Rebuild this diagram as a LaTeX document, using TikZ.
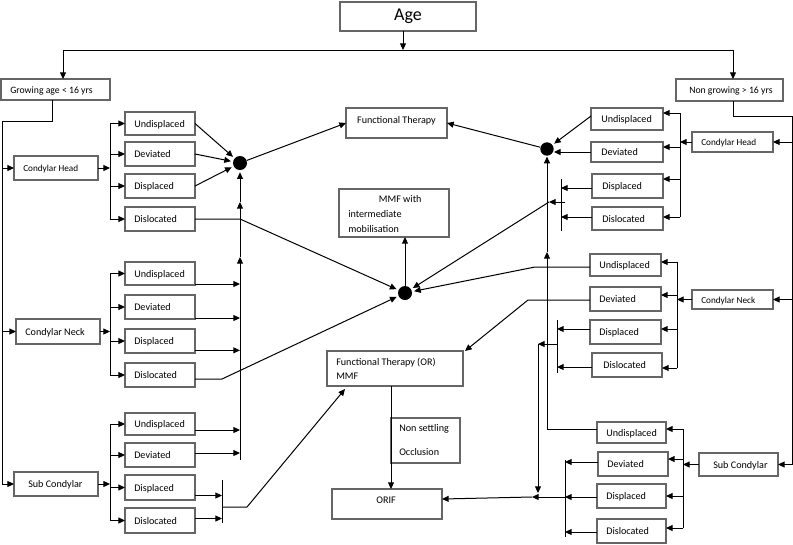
\documentclass[tikz,border=0pt]{standalone}
\usepackage{fontspec}
\setmainfont{Carlito}
\usetikzlibrary{arrows.meta,calc}
\tikzset{
 box/.style={draw=black!60, line width=0.8pt, rectangle, inner sep=0pt, outer sep=0pt},
 lbl/.style={inner sep=0pt, font=\fontsize{7.6}{9.5}\selectfont, text height=1.45ex, text depth=0.35ex},
 lblm/.style={inner sep=0pt, align=left},
 sml/.style={font=\fontsize{6.9}{8.5}\selectfont},
 arr/.style={-{Triangle[length=5pt,width=4.5pt]}},
 ln/.style={line width=0.75pt, black},
 dot/.style={circle, fill=black, inner sep=0pt, minimum size=10.5pt},
}
\newcommand\bxo[5]{\node[box, minimum width={(#4-#2)*0.75pt}, minimum height={(#5-#3)*0.75pt}] (#1) at ({(#2+#4)/2},{(#3+#5)/2}) {};}
\newcommand\bx[8][]{\bxo{#2}{#3}{#4}{#5}{#6}\node[lbl,#1,anchor=west] (#2t) at ($(#2.west)+(#7,0)$) {#8};}
\begin{document}
\begin{tikzpicture}[x=0.75pt,y=-0.75pt]
\useasboundingbox (0,0) rectangle (793,544);
% ---------- boxes ----------
\node[box, minimum width=102pt, minimum height=21.75pt, font=\fontsize{13.5}{16}\selectfont] (age) at (408,16.5) {Age};
\bx[font=\fontsize{7.3}{9}\selectfont]{grow}{1}{79}{110}{100}{9}{Growing age < 16 yrs}
\bx[font=\fontsize{7.3}{9}\selectfont]{nong}{676}{79}{783}{101}{13}{Non growing > 16 yrs}
\bx[sml]{lch}{14}{156}{98}{180}{9}{Condylar Head}
\bx{lcn}{16}{319}{100}{344}{9}{Condylar Neck}
\bx{lsc}{14}{472}{98}{496}{14}{Sub Condylar}
\bx{lh1}{125}{112}{195}{135}{9}{Undisplaced}
\bx{lh2}{125}{142}{195}{166}{9}{Deviated}
\bx{lh3}{125}{174}{195}{198}{9}{Displaced}
\bx{lh4}{125}{207}{195}{231}{9}{Dislocated}
\bx{ln1}{125}{262}{195}{285}{9}{Undisplaced}
\bx{ln2}{125}{295}{195}{319}{9}{Deviated}
\bx{ln3}{125}{329}{195}{353}{9}{Displaced}
\bx{ln4}{125}{363}{195}{387}{9}{Dislocated}
\bx{ls1}{125}{413}{195}{435}{9}{Undisplaced}
\bx{ls2}{125}{443}{195}{467}{9}{Deviated}
\bx{ls3}{125}{475}{195}{500}{9}{Displaced}
\bx{ls4}{125}{508}{195}{533}{9}{Dislocated}
\bxo{ft}{346}{108}{447}{138}
\node[lbl] (ftt) at ($(ft.center)+(0,-3)$) {Functional Therapy};
\bxo{mmf}{339}{189}{449}{237}
\node[lblm, anchor=west, font=\fontsize{7.6}{10.9}\selectfont] (mmft) at ($(mmf.west)+(9,1)$) {\hspace*{23pt}MMF with\\intermediate\\mobilisation};
\bxo{ftor}{327}{351}{463}{386}
\node[lblm, anchor=west, font=\fontsize{7.6}{10.5}\selectfont] (ftort) at ($(ftor.west)+(9,0)$) {Functional Therapy (OR)\\MMF};
\bxo{nso}{391}{418}{460}{463}
\node[lblm, anchor=west, font=\fontsize{7.6}{18}\selectfont] (nsot) at ($(nso.west)+(8,0)$) {Non settling\\Occlusion};
\bxo{orif}{332}{489}{442}{519}
\node[lbl] (orift) at ($(orif.center)+(-1,-4)$) {ORIF};
\bx[sml]{rch}{692}{132}{773}{152}{9}{Condylar Head}
\bx[sml]{rcn}{692}{290}{773}{309}{9}{Condylar Neck}
\bx{rsc}{699}{453}{778}{476}{14}{Sub Condylar}
\bx{rh1}{591}{108}{663}{130}{10}{Undisplaced}
\bx{rh2}{591}{142}{663}{162}{10}{Deviated}
\bx{rh3}{592}{174}{663}{198}{10}{Displaced}
\bx{rh4}{592}{207}{663}{230}{10}{Dislocated}
\bx{rn1}{590}{254}{661}{276}{9}{Undisplaced}
\bx{rn2}{590}{287}{661}{311}{9}{Deviated}
\bx{rn3}{590}{320}{661}{344}{9}{Displaced}
\bx{rn4}{592}{353}{662}{377}{11}{Dislocated}
\bx{rs1}{597}{422}{666}{443}{9}{Undisplaced}
\bx{rs2}{598}{452}{668}{476}{9}{Deviated}
\bx{rs3}{597}{484}{666}{508}{9}{Displaced}
\bx{rs4}{597}{519}{666}{543}{9}{Dislocated}
% ---------- dots ----------
\node[dot] (d1) at (240,163) {};
\node[dot] (d2) at (405,293) {};
\node[dot, minimum size=10pt] (d3) at (547,149) {};
% ---------- top split ----------
\coordinate (tm) at (403,50);
\coordinate (tl) at (63,50);
\coordinate (tr) at (733,50);
\draw[ln,arr] (age.south -| tm) -- (tm);
\draw[ln] (tl) -- (tr);
\draw[ln,arr] (tl) -- (tl |- grow.north);
\draw[ln,arr] (tr) -- (tr |- nong.north);
% ---------- left spine ----------
\coordinate (gb) at (52,121);
\coordinate (lsp) at (2,121);
\draw[ln,arr] (grow.south -| gb) -- (gb) -- (lsp) -- (lsp |- lsc.west) -- (lsc.west);
\draw[ln,arr] (lsp |- lch.west) -- (lch.west);
\draw[ln,arr] (lsp |- lcn.west) -- (lcn.west);
\coordinate (lb) at (110,0);
\foreach \p/\g in {lch/lh, lcn/ln, lsc/ls}{
  \draw[ln,arr] (\p.east) -- (\p.east -| lb);
  \draw[ln] (lb |- \g1.west) -- (lb |- \g4.west);
  \foreach \i in {1,2,3,4}{\draw[ln,arr] (lb |- \g\i.west) -- (\g\i.west);}
}
% ---------- left head group ----------
\draw[ln,arr,shorten >=1.5pt] (lh1.east) -- (d1);
\draw[ln,arr,shorten >=1.5pt] (lh2.east) -- (d1);
\draw[ln,arr,shorten >=1.5pt] (lh3.east) -- (d1);
\draw[ln,arr,shorten >=1.5pt] (lh4.east) -- +(45,0) -- (d2);
\coordinate (vb) at (240,460);
\coordinate (va1) at (240,257);
\coordinate (va2) at (240,202);
\draw[ln,arr] (vb) -- (va1);
\draw[ln,arr] (va1) -- (va2);
\draw[ln,arr,shorten >=1.5pt] (va2) -- (d1);
\draw[ln,arr] (d1) -- (ft.west);
% ---------- left neck group ----------
\draw[ln,arr] ([yshift=0.75pt]ln1.south east) -- +(45,0);
\draw[ln,arr] ([yshift=0.75pt]ln2.south east) -- +(45,0);
\draw[ln,arr] ([yshift=2pt]ln3.south east) -- +(45,0);
\draw[ln,arr,shorten >=1.5pt] ($(ln4.east)+(0,4)$) -- +(27,0) -- (d2);
% ---------- left sub group ----------
\draw[ln,arr] ($(ls1.east)+(0,6)$) -- +(45,0);
\draw[ln,arr] ($(ls2.east)+(0,-2)$) -- +(45,0);
\draw[ln,arr] ($(ls3.east)+(0,8)$) -- +(27,0);
\draw[ln,arr] ($(ls4.east)+(0,-2)$) -- +(27,0);
\coordinate (sb1) at (222,480);
\coordinate (sb2) at (222,523);
\coordinate (sj) at (222,507);
\draw[ln] (sb1) -- (sb2);
\draw[ln,arr] (sj) -- +(25,0) -- ($(ftor.south west)+(18,3)$);
% ---------- centre ----------
\draw[ln,arr] (d2) -- (mmf.south -| d2);
\draw[ln,arr] (ftor.south -| nso.west) -- (orif.north -| nso.west);
% ---------- right spine ----------
\coordinate (rsp) at (792,116);
\draw[ln,arr] (nong.south -| tr) -- (tr |- rsp) -- (rsp) -- (rsp |- rsc.east) -- (rsc.east);
\draw[ln,arr] (rsp |- rch.east) -- (rch.east);
\draw[ln,arr] (rsp |- rcn.east) -- (rcn.east);
% ---------- right head group ----------
\draw[ln,arr] (rch.west) -- +(-12,0);
\draw[ln] ($(rh1.east)+(17,-6)$) -- ($(rh4.east)+(17,-1.5)$);
\draw[ln,arr] ($(rh1.east)+(17,-6)$) -- ($(rh1.east)+(0,-6)$);
\draw[ln,arr] ($(rh2.east)+(17,-5)$) -- ($(rh2.east)+(0,-5)$);
\draw[ln,arr] ($(rh3.east)+(17,-7)$) -- ($(rh3.east)+(0,-7)$);
\draw[ln,arr] ($(rh4.east)+(17,-1.5)$) -- ($(rh4.east)+(0,-1.5)$);
\draw[ln,arr,shorten >=1.5pt] ($(rh1.west)+(0,-3)$) -- (d3);
\draw[ln,arr] (rh2.west) -- (rh2.west -| d3.east);
\draw[ln,arr] (d3) -- (ft.east);
\draw[ln,arr] ($(rh3.west)+(0,2)$) -- +(-31,0);
\draw[ln,arr] ($(rh4.west)+(0,-1.5)$) -- +(-31,0);
\coordinate (rb2t) at (561,179);
\coordinate (rb2b) at (561,231);
\draw[ln] (rb2t) -- (rb2b);
\coordinate (rj1) at (565,202);
\coordinate (rj2) at (549,202);
\draw[ln,arr] (rj1) -- (rj2);
\draw[ln,arr,shorten >=1.5pt] (rj2) -- (d2);
\coordinate (rv) at (547,252);
\draw[ln,arr] ($(rs1.west)+(0,-3)$) -| (rv);
\draw[ln,arr,shorten >=0.5pt] (rv) -- (d3);
% ---------- right neck group ----------
\draw[ln,arr] (rcn.west) -- +(-15,0);
\draw[ln] ($(rn1.east)+(16,-3)$) -- ($(rn4.east)+(15,3)$);
\draw[ln,arr] ($(rn1.east)+(16,-3)$) -- ($(rn1.east)+(0,-3)$);
\draw[ln,arr] ($(rn2.east)+(16,-4)$) -- ($(rn2.east)+(0,-4)$);
\draw[ln,arr] ($(rn3.east)+(16,-3)$) -- ($(rn3.east)+(0,-3)$);
\draw[ln,arr] ($(rn4.east)+(15,3)$) -- ($(rn4.east)+(0,3)$);
\draw[ln,arr,shorten >=1.5pt] ($(rn1.west)+(0,2)$) -- +(-55,0) -- (d2);
\draw[ln,arr] ($(rn2.west)+(0,1)$) -- +(-62,0) -- ($(ftor.north east)+(2,0)$);
\draw[ln,arr] ($(rn3.west)+(0,-3)$) -- +(-33,0);
\draw[ln,arr] ($(rn4.west)+(0,2)$) -- +(-35,0);
\coordinate (rb4t) at (557,320);
\coordinate (rb4b) at (557,373);
\draw[ln] (rb4t) -- (rb4b);
\coordinate (rm1) at (557,344);
\coordinate (rm2) at (538,344);
\coordinate (rm3) at (538,493);
\draw[ln,arr] (rm1) -- (rm2);
\draw[ln,arr] (rm2) -- (rm3);
% ---------- right sub group ----------
\draw[ln,arr] (rsc.west) -- +(-16,0);
\draw[ln] ($(rs1.east)+(17,-3.5)$) -- ($(rs4.east)+(17,-3)$);
\draw[ln,arr] ($(rs1.east)+(17,-3.5)$) -- ($(rs1.east)+(0,-3.5)$);
\draw[ln,arr] ($(rs2.east)+(15,-5)$) -- ($(rs2.east)+(0,-5)$);
\draw[ln,arr] ($(rs3.east)+(17,0)$) -- ($(rs3.east)+(0,0)$);
\draw[ln,arr] ($(rs4.east)+(17,-3)$) -- ($(rs4.east)+(0,-3)$);
\draw[ln,arr] ($(rs2.west)+(0,-2)$) -- +(-33,0);
\draw[ln,arr] ($(rs3.west)+(0,1)$) -- +(-32,0);
\draw[ln,arr] ($(rs4.west)+(0,1)$) -- +(-32,0);
\coordinate (rb5t) at (565,460);
\coordinate (rb5b) at (565,537);
\draw[ln] (rb5t) -- (rb5b);
\coordinate (rq1) at (565,497);
\coordinate (rq2) at (532,497);
\draw[ln,arr] (rq1) -- (rq2);
\draw[ln,arr] (rq2) -- ($(orif.east)+(0,-5)$);
\end{tikzpicture}
\end{document}
